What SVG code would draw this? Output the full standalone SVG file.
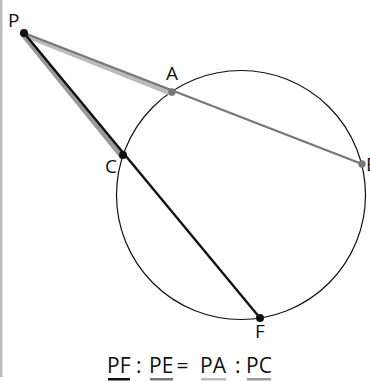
<svg xmlns="http://www.w3.org/2000/svg" width="370" height="381" viewBox="0 0 370 381">
<style>
.lbl{font-family:"Open Sans","Noto Sans",sans-serif;font-size:19px;fill:#111}
.eq{font-family:"Open Sans","Noto Sans",sans-serif;font-size:21px;fill:#111}
</style>
<rect x="0" y="0" width="370" height="381" fill="#fff"/>
<rect x="0" y="0" width="2.5" height="377" fill="#bbb"/>
<g id="circle"><circle cx="241" cy="195" r="124.5" fill="none" stroke="#111" stroke-width="1.2"/></g>
<g id="connectors">
<line x1="23.4" y1="34.4" x2="171.4" y2="93.4" stroke="#bbb" stroke-width="5" stroke-linecap="round"/>
<line x1="24" y1="33" x2="362" y2="164" stroke="#777" stroke-width="2.2"/>
<line x1="22.8" y1="34" x2="121.8" y2="156" stroke="#999" stroke-width="5.5" stroke-linecap="round"/>
<line x1="24" y1="33" x2="260" y2="318" stroke="#111" stroke-width="2.4"/>
</g>
<g id="P"><circle cx="24" cy="33" r="4" fill="#111"/><text class="lbl" x="8" y="27">P</text></g>
<g id="A"><circle cx="172" cy="92" r="3.7" fill="#777"/><text class="lbl" x="166" y="80">A</text></g>
<g id="C"><circle cx="123" cy="155" r="4" fill="#111"/><text class="lbl" x="105" y="173">C</text></g>
<g id="E"><circle cx="362" cy="164" r="3.7" fill="#777"/><text class="lbl" x="366" y="171">E</text></g>
<g id="F"><circle cx="260" cy="318" r="4" fill="#111"/><text class="lbl" x="255" y="338">F</text></g>
<g id="equation">
<text class="eq" x="107" y="373">PF</text>
<text class="eq" x="136" y="373">:</text>
<text class="eq" x="149" y="373">PE</text>
<text class="eq" x="176.5" y="373">=</text>
<text class="eq" x="200" y="373">PA</text>
<text class="eq" x="235" y="373">:</text>
<text class="eq" x="246" y="373">PC</text>
<rect x="108" y="378" width="22" height="2.5" fill="#111"/>
<rect x="150" y="378" width="23" height="2.5" fill="#777"/>
<rect x="201" y="378" width="25" height="2.5" fill="#bbb"/>
<rect x="247" y="378" width="24" height="2.5" fill="#999"/>
</g>
</svg>
